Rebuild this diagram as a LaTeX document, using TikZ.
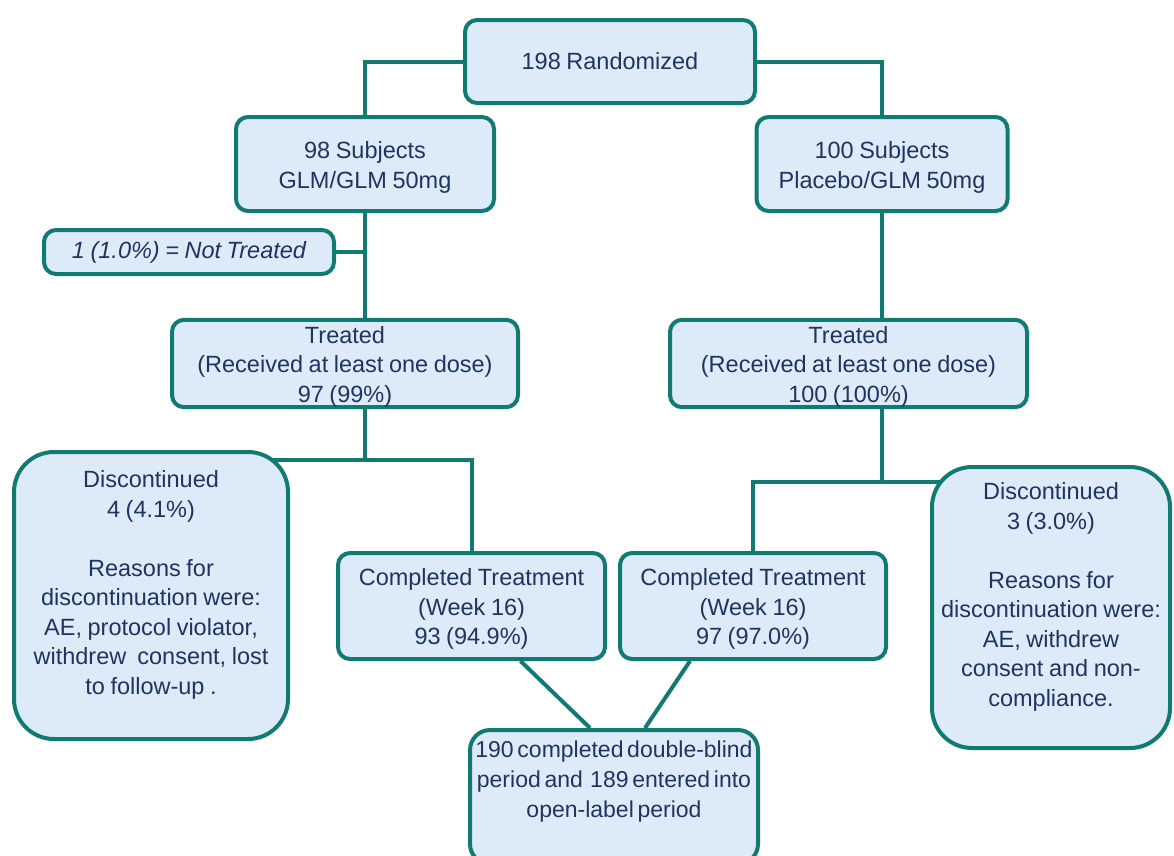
\documentclass[tikz,border=0pt]{standalone}
\usepackage{fontspec}
\setmainfont[WordSpace=0.85]{Liberation Sans}
\usetikzlibrary{calc,backgrounds}
\definecolor{teal1}{HTML}{107B71}
\definecolor{boxfill}{HTML}{DDEBF8}
\definecolor{txt}{HTML}{1F3460}
\newcommand\mytightspace{\spaceskip=0.16em plus 0.05em\relax}
\newcommand\mydn{\rule{0pt}{23.5pt}}
\tikzset{
  box/.style={draw=teal1, line width=4pt, fill=boxfill, rounded corners=12pt,
    align=center, text=txt, inner sep=0pt,
    font=\fontsize{23.5}{29.5}\selectfont},
  bigbox/.style={box, rounded corners=40pt},
  link/.style={draw=teal1, line width=4pt},
}
\begin{document}
\begin{tikzpicture}[x=1pt,y=-1pt]
\useasboundingbox (0,0) rectangle (1174,855);
\node[box, minimum width=290pt, minimum height=83pt] (rand) at (610,61.5) {198 Randomized};
\node[box, minimum width=258pt, minimum height=94pt] (s98) at (365,164) {\mydn 98 Subjects\\GLM/GLM 50mg};
\node[box, minimum width=251pt, minimum height=94pt] (s100) at (882,164) {\mydn 100 Subjects\\Placebo/GLM 50mg};
\node[box, minimum width=290pt, minimum height=44pt, font=\fontsize{23.5}{29.5}\selectfont\itshape] (nt) at (189,252) {1 (1.0\%) = Not Treated};
\node[box, minimum width=346pt, minimum height=85pt] (tl) at (345,363.5) {\mydn Treated\\(Received at least one dose)\\97 (99\%)};
\node[box, minimum width=357pt, minimum height=85pt] (tr) at (848.5,363.5) {\mydn Treated\\(Received at least one dose)\\100 (100\%)};
\node[bigbox, minimum width=274pt, minimum height=287pt] (dl) at (151,595.5) {Discontinued\\4 (4.1\%)\\[29.5pt]Reasons for\\discontinuation were:\\AE, protocol violator,\\withdrew\ \ consent, lost\\to follow-up .\\[-3pt]};
\node[box, minimum width=267pt, minimum height=106pt] (cl) at (471.5,606) {\mydn Completed Treatment\\(Week 16)\\93 (94.9\%)};
\node[box, minimum width=266pt, minimum height=106pt] (cr) at (753,606) {\mydn Completed Treatment\\(Week 16)\\97 (97.0\%)};
\node[bigbox, minimum width=238pt, minimum height=281pt] (dr) at (1051,607.5) {Discontinued\\3 (3.0\%)\\[29.5pt]Reasons for\\discontinuation were:\\AE, withdrew\\consent and non-\\compliance.\\[-3pt]};
\node[box, minimum width=288pt, minimum height=134pt, rounded corners=20pt, font=\fontsize{23}{30}\selectfont\mytightspace] (fb) at (614,797) {190 completed double-blind\\period and\ \ 189 entered into\\open-label period\\[5pt]};
\coordinate (j1) at (365,460);
\coordinate (j2) at (882,482);
\begin{scope}[on background layer]
\draw[link] (rand.west) -| (s98.north);
\draw[link] (rand.east) -| (s100.north);
\draw[link] (s98.south) -- (s98.south |- tl.north);
\draw[link] (nt.east) -- (nt.east -| s98.south);
\draw[link] (s98.south |- tl.south) -- (j1);
\draw[link] (dl.center |- j1) -- (j1 -| cl.north) -- (cl.north);
\draw[link] (s100.south) -- (s100.south |- tr.north);
\draw[link] (s100.south |- tr.south) -- (j2);
\draw[link] (cr.north) -- (cr.north |- j2) -- (dr.center |- j2);
\draw[link] ($(cl.south)+(49,0)$) -- ($(fb.north)+(-24,0)$);
\draw[link] ($(cr.south)+(-63,0)$) -- ($(fb.north)+(31,0)$);
\end{scope}
\end{tikzpicture}
\end{document}
